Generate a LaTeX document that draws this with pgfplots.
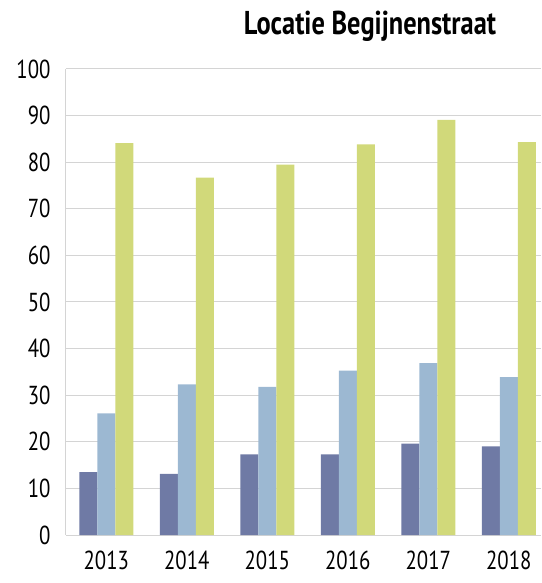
\documentclass[border=0pt]{standalone}
\usepackage{pgfplots}
\pgfplotsset{compat=1.18}
\usepackage{fontspec}
\setmainfont{PT Sans}[FakeStretch=0.8]
\definecolor{donker}{RGB}{111,122,165}
\definecolor{licht}{RGB}{156,184,210}
\definecolor{groen}{RGB}{209,217,122}
\definecolor{raster}{RGB}{212,212,212}
\begin{document}
\begin{tikzpicture}
\begin{axis}[name=ax,
  scale only axis, width=475pt, height=466pt,
  ybar=0pt, bar width=18pt,
  xmin=-0.5, xmax=5.4, ymin=0, ymax=100,
  xtick={0,...,5}, xticklabels={2013,2014,2015,2016,2017,2018},
  ytick={0,10,...,100},
  axis x line*=bottom, axis y line*=left,
  axis line style={draw=raster, line width=1pt},
  ymajorgrids, grid style={draw=raster, line width=1pt},
  major tick length=0pt,
  tick label style={font=\fontsize{26}{28}\selectfont},
  /pgf/number format/assume math mode=true,
  yticklabel style={xshift=-12pt},
  xticklabel style={yshift=-12pt},
  every axis plot/.append style={draw=none},
]
\addplot[fill=donker] coordinates {(0,13.5) (1,13.1) (2,17.3) (3,17.3) (4,19.6) (5,19.0)};
\addplot[fill=licht] coordinates {(0,26.1) (1,32.3) (2,31.8) (3,35.3) (4,36.9) (5,33.9)};
\addplot[fill=groen] coordinates {(0,84.1) (1,76.7) (2,79.5) (3,83.8) (4,89.1) (5,84.3)};
\end{axis}
\node[font=\bfseries\fontsize{33}{35}\selectfont] at ([xshift=304pt,yshift=43pt]ax.north west) {Locatie Begijnenstraat};
\pgfresetboundingbox
\useasboundingbox ([xshift=-66pt,yshift=-48pt]ax.south west) rectangle ([yshift=69pt]ax.north east);
\end{tikzpicture}
\end{document}
